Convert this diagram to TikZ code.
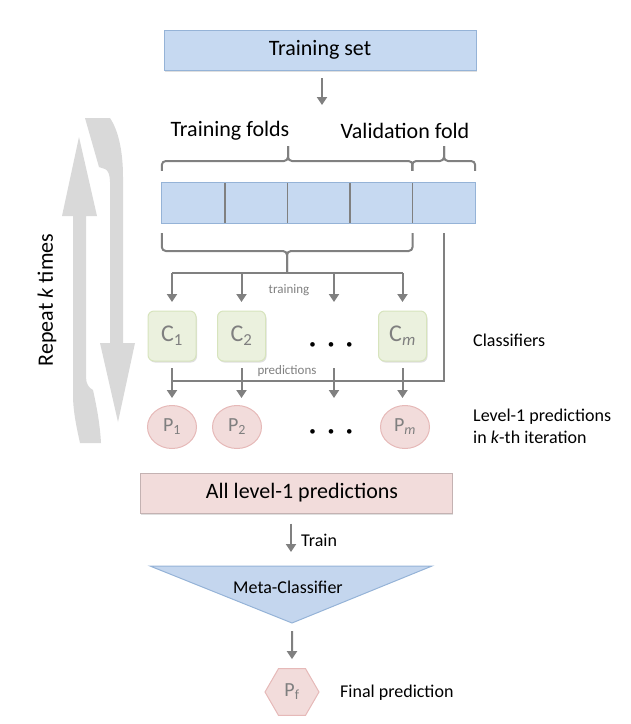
\documentclass[tikz,border=0pt]{standalone}
\usepackage{fontspec}
\setmainfont{Carlito}
\usetikzlibrary{shapes.geometric,arrows.meta,shadows}
\definecolor{bluefill}{HTML}{C6D9F1}
\definecolor{blueline}{HTML}{95B3D7}
\definecolor{lineg}{HTML}{808080}
\definecolor{greenfill}{HTML}{EBF1DE}
\definecolor{greenline}{HTML}{D7E4BD}
\definecolor{pinkfill}{HTML}{F2DCDB}
\definecolor{pinkline}{HTML}{E6B9B8}
\definecolor{allline}{HTML}{C4B2B2}
\definecolor{bigarrow}{HTML}{D9D9D9}
\definecolor{nodetext}{HTML}{7F7F7F}
\definecolor{metafill}{HTML}{C4D6EE}
\begin{document}
\begin{tikzpicture}[x=1pt,y=-1pt,
  lbl/.style={font=\fontsize{22}{26}\selectfont, inner sep=0},
  side/.style={font=\fontsize{18}{22}\selectfont, inner sep=0, anchor=west, align=left},
  small/.style={font=\fontsize{13}{15}\selectfont, text=lineg, inner sep=1pt},
  conn/.style={draw=lineg, line width=2pt},
  arr/.style={conn, -{Triangle[width=10pt,length=8pt]}},
  brc/.style={draw=lineg, line width=2pt, rounded corners=4pt},
  shad/.style={drop shadow={opacity=0.25, shadow xshift=1pt, shadow yshift=-1.5pt}},
  foldcell/.style={fill=bluefill, minimum width=62.6pt, minimum height=40pt, inner sep=0},
  clf/.style={rounded corners=6pt, fill=greenfill, draw=greenline, line width=1pt,
              minimum width=48pt, minimum height=50pt, inner sep=0, text=nodetext,
              font=\fontsize{24}{28}\selectfont, shad},
  pred/.style={ellipse, fill=pinkfill, draw=pinkline, line width=1pt,
               minimum width=49pt, minimum height=43pt, inner sep=0, text=nodetext,
               font=\fontsize{20}{24}\selectfont},
  dotsn/.style={font=\fontsize{13}{16}\selectfont, inner sep=0}
]
\useasboundingbox (0,0) rectangle (631,724);

% big repeat arrows
\fill[bigarrow] (80,443) .. controls (76,425) and (73,410) .. (73,395) -- (73,216) -- (62,216)
  -- (79,137) -- (97,216) -- (86,216) -- (86,377) .. controls (86,384) and (89,388) .. (93,390)
  .. controls (97,408) and (100,425) .. (101,443) -- cycle;
\fill[bigarrow] (85,118) -- (110,118) .. controls (118,130) and (123,150) .. (123,177)
  -- (123,343) -- (135,343) -- (118,422) -- (100,343) -- (110,343) -- (110,182)
  .. controls (110,175) and (108,170) .. (105,169) -- (99,167) -- cycle;
\node[lbl, rotate=90] (rep) at (47,300) {Repeat \textit{k} times};

% training set
\node[lbl, fill=bluefill, draw=blueline, line width=1pt, minimum width=312pt,
      minimum height=40pt, shad] (ts) at (320,50) {Training set};

% folds
\foreach \i in {1,...,5}
  \node[foldcell] (f\i) at ({162+62.6*(\i-0.5)},203) {};
\draw[blueline, line width=1pt] (f1.north west) rectangle (f5.south east);
\foreach \i in {1,...,4}
  \draw[lineg, line width=1.5pt] (f\i.north east) -- (f\i.south east);
\coordinate (tsa) at (322,78);
\coordinate (tsb) at (322,105);
\draw[arr] (tsa) -- (tsb);

\node[lbl] (tf) at (230,131) {Training folds};
\node[lbl] (vf) at (405,131) {Validation fold};

% brackets above and below the folds
\coordinate (bt1) at (288,161);
\coordinate (bt2) at (444,161);
\coordinate (bb) at (287,251);
\draw[brc] ([yshift=12pt]f1.north west) -- (f1.north west |- bt1) -- (bt1) -- ++(0,-15);
\draw[brc] ([yshift=12pt]f4.north east) -- (f4.north east |- bt1) -- (bt1) -- ++(0,-15);
\draw[brc] ([yshift=12pt]f5.north west) -- (f5.north west |- bt2) -- (bt2) -- ++(0,-15);
\draw[brc] ([yshift=12pt]f5.north east) -- (f5.north east |- bt2) -- (bt2) -- ++(0,-15);
\draw[brc] ([yshift=-10pt]f1.south west) -- (f1.south west |- bb) -- (bb) -- ++(0,22);
\draw[brc] ([yshift=-10pt]f4.south east) -- (f4.south east |- bb) -- (bb) -- ++(0,22);

% classifiers
\node[clf] (C1) at (172,336) {C\textsubscript{1}};
\node[clf] (C2) at (241.5,336) {C\textsubscript{2}};
\node[clf] (Cm) at (402.5,336) {C\textsubscript{\textit{m}}};
\node[dotsn] (dotsC) at (331,346) {\textbullet\hspace{12pt}\textbullet\hspace{12pt}\textbullet};
\node[side] (clfl) at (473,340) {Classifiers};

% predictions
\node[pred] (P1) at (172,427) {P\textsubscript{1}};
\node[pred] (P2) at (237,427) {P\textsubscript{2}};
\node[pred] (Pm) at (405,427) {P\textsubscript{\textit{m}}};
\node[dotsn] (dotsP) at (331,433) {\textbullet\hspace{12pt}\textbullet\hspace{12pt}\textbullet};
\node[side] (predl) at (473,426) {Level-1 predictions\\in \textit{k}-th iteration};

% training connectors
\coordinate (hl) at (287,273);
\coordinate (ctop) at (287,302);
\coordinate (colM) at (334,336);
\draw[conn] (C1 |- hl) -- (Cm |- hl);
\draw[arr] (C1 |- hl) -- (C1 |- ctop);
\draw[arr] (C2 |- hl) -- (C2 |- ctop);
\draw[arr] (colM |- hl) -- (colM |- ctop);
\draw[arr] (Cm |- hl) -- (Cm |- ctop);
\node[small] (trl) at (289,290) {training};

% prediction connectors
\coordinate (vl) at ([yshift=-10pt]f5.south);
\coordinate (pl) at (287,381);
\coordinate (cb) at (287,368);
\coordinate (pt) at (287,398);
\draw[conn] (vl) -- (vl |- pl) -- (C1 |- pl);
\draw[arr] (C1 |- cb) -- (C1 |- pt);
\draw[arr] (C2 |- cb) -- (C2 |- pt);
\draw[arr] (colM |- cb) -- (colM |- pt);
\draw[arr] (Cm |- cb) -- (Cm |- pt);
\node[small] (prl) at (287,371) {predictions};

% all level-1 predictions
\node[lbl, fill=pinkfill, draw=allline, line width=1pt, minimum width=312pt,
      minimum height=40pt, shad] (all) at (296,493) {\hspace{12pt}All level-1 predictions};

% meta classifier
\coordinate (mtl) at (150,566);
\coordinate (mtr) at (432,566);
\coordinate (mtb) at (292,623);
\coordinate (mtop) at (291,566);
\draw[fill=metafill, draw=blueline, line width=1pt] (mtl) -- (mtr) -- (mtb) -- cycle;
\node[font=\fontsize{18}{22}\selectfont, inner sep=0] (meta) at (288,587) {Meta-Classifier};
\draw[arr] ([yshift=-10pt]all.south -| mtop) -- ([yshift=14pt]mtop);
\node[side] (trn) at (301,540) {Train};

% final prediction
\node[regular polygon, regular polygon sides=6, minimum size=54pt, inner sep=0,
      fill=pinkfill, draw=pinkline, line width=1pt, text=nodetext,
      font=\fontsize{20}{24}\selectfont] (pf) at (292,692) {P\textsubscript{f}};
\draw[arr] ([yshift=-8pt]mtb) -- ([yshift=9pt]pf.north);
\node[side] (fpl) at (340,693) {Final prediction};
\end{tikzpicture}
\end{document}
